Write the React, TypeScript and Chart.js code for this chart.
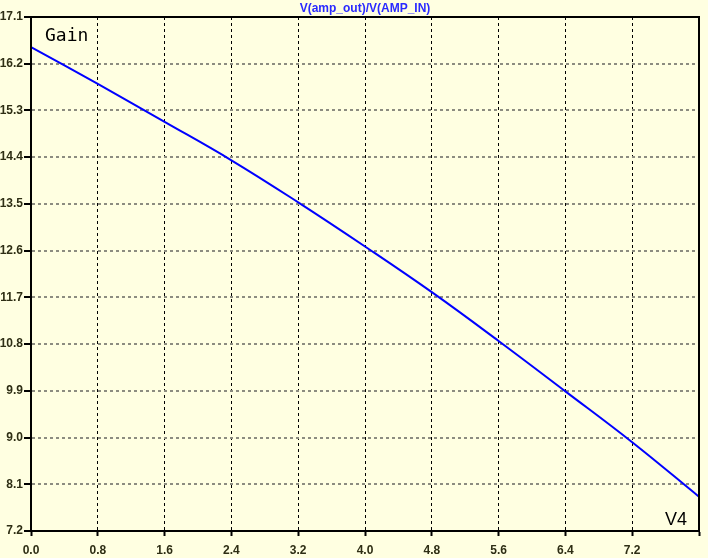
import React, { useEffect, useRef } from "react";
import { Chart, registerables } from "chart.js";

Chart.register(...registerables);

const xValues = [0, 0.8, 1.6, 2.4, 3.2, 4.0, 4.8, 5.6, 6.4, 7.2, 8.0];
const gainValues = [16.52, 15.81, 15.08, 14.34, 13.53, 12.68, 11.8, 10.86, 9.89, 8.91, 7.86];
const xTicks = [0, 0.8, 1.6, 2.4, 3.2, 4.0, 4.8, 5.6, 6.4, 7.2, 8.0];
const yTicks = [7.2, 8.1, 9.0, 9.9, 10.8, 11.7, 12.6, 13.5, 14.4, 15.3, 16.2, 17.1];
const titleText = "V(amp_out)/V(AMP_IN)";
const traceLabel = "Gain";
const sweepLabel = "V4";

const BG = "#FFFFE1";

export default function App() {
  const ref = useRef<HTMLCanvasElement | null>(null);

  useEffect(() => {
    document.body.style.margin = "0";
    const canvas = ref.current;
    if (!canvas) return;

    const decor = {
      id: "decor",
      beforeDraw(chart: any) {
        const { ctx, width, height } = chart;
        ctx.save();
        ctx.fillStyle = BG;
        ctx.fillRect(0, 0, width, height);
        ctx.restore();
      },
      afterDraw(chart: any) {
        const { ctx, chartArea } = chart;
        const { left, right, top, bottom } = chartArea;
        ctx.save();
        ctx.strokeStyle = "#000";
        ctx.lineWidth = 2;
        ctx.strokeRect(left, top, right - left, bottom - top);
        // title
        ctx.fillStyle = "#2a2aff";
        ctx.font = "bold 12px 'Liberation Sans', Arial, sans-serif";
        ctx.textAlign = "center";
        ctx.textBaseline = "middle";
        ctx.fillText(titleText, (left + right) / 2, 8.5);
        // trace label
        ctx.fillStyle = "#000";
        ctx.font = "18px 'DejaVu Sans Mono', monospace";
        ctx.textAlign = "left";
        ctx.textBaseline = "alphabetic";
        ctx.fillText(traceLabel, left + 14, top + 24);
        // sweep label
        ctx.font = "18px 'Liberation Sans', Arial, sans-serif";
        ctx.textAlign = "right";
        ctx.fillText(sweepLabel, right - 12, bottom - 6);
        ctx.restore();
      },
    };

    const chart = new Chart(canvas, {
      type: "scatter",
      data: {
        datasets: [
          {
            label: traceLabel,
            data: xValues.map((x, i) => ({ x, y: gainValues[i] })),
            showLine: true,
            borderColor: "#0000ff",
            borderWidth: 2,
            pointRadius: 0,
            tension: 0.4,
            fill: false,
          },
        ],
      },
      options: {
        animation: false,
        responsive: false,
        maintainAspectRatio: false,
        devicePixelRatio: 1,
        layout: { padding: { top: 17, right: 9, left: 0, bottom: 0 } },
        plugins: {
          legend: { display: false },
          title: { display: false },
          tooltip: { enabled: false },
        },
        scales: {
          x: {
            type: "linear",
            min: 0,
            max: 8,
            afterBuildTicks: (scale: any) => {
              scale.ticks = xTicks.map((v) => ({ value: v }));
            },
            afterFit: (scale: any) => {
              scale.height = 27;
            },
            ticks: {
              autoSkip: false,
              maxRotation: 0,
              padding: 7,
              color: "#2e2e14",
              font: { family: "'Liberation Sans', Arial, sans-serif", size: 12, weight: "bold" },
              callback: (v: any) => (Math.abs(Number(v) - 8) < 1e-6 ? "" : Number(v).toFixed(1)),
            },
            grid: {
              color: "#000",
              lineWidth: 1,
              tickLength: 5,
              tickColor: "#000",
              tickWidth: 2,
              tickBorderDash: [],
            },
            border: { display: true, color: "#000", width: 2, dash: [3, 3] },
          },
          y: {
            type: "linear",
            min: 7.2,
            max: 17.1,
            afterBuildTicks: (scale: any) => {
              scale.ticks = yTicks.map((v) => ({ value: v }));
            },
            afterFit: (scale: any) => {
              scale.width = 31;
            },
            ticks: {
              autoSkip: false,
              padding: 1,
              color: "#2e2e14",
              font: { family: "'Liberation Sans', Arial, sans-serif", size: 12, weight: "bold" },
              callback: (v: any) => Number(v).toFixed(1),
            },
            grid: {
              color: "#8c8c80",
              lineWidth: 2,
              tickLength: 7,
              tickColor: "#000",
              tickWidth: 2,
              tickBorderDash: [],
            },
            border: { display: true, color: "#000", width: 2, dash: [3, 3] },
          },
        },
      },
      plugins: [decor],
    } as any);

    return () => chart.destroy();
  }, []);

  return (
    <div style={{ width: 708, height: 558, background: BG }}>
      <canvas ref={ref} width={708} height={558} style={{ display: "block" }} />
    </div>
  );
}
